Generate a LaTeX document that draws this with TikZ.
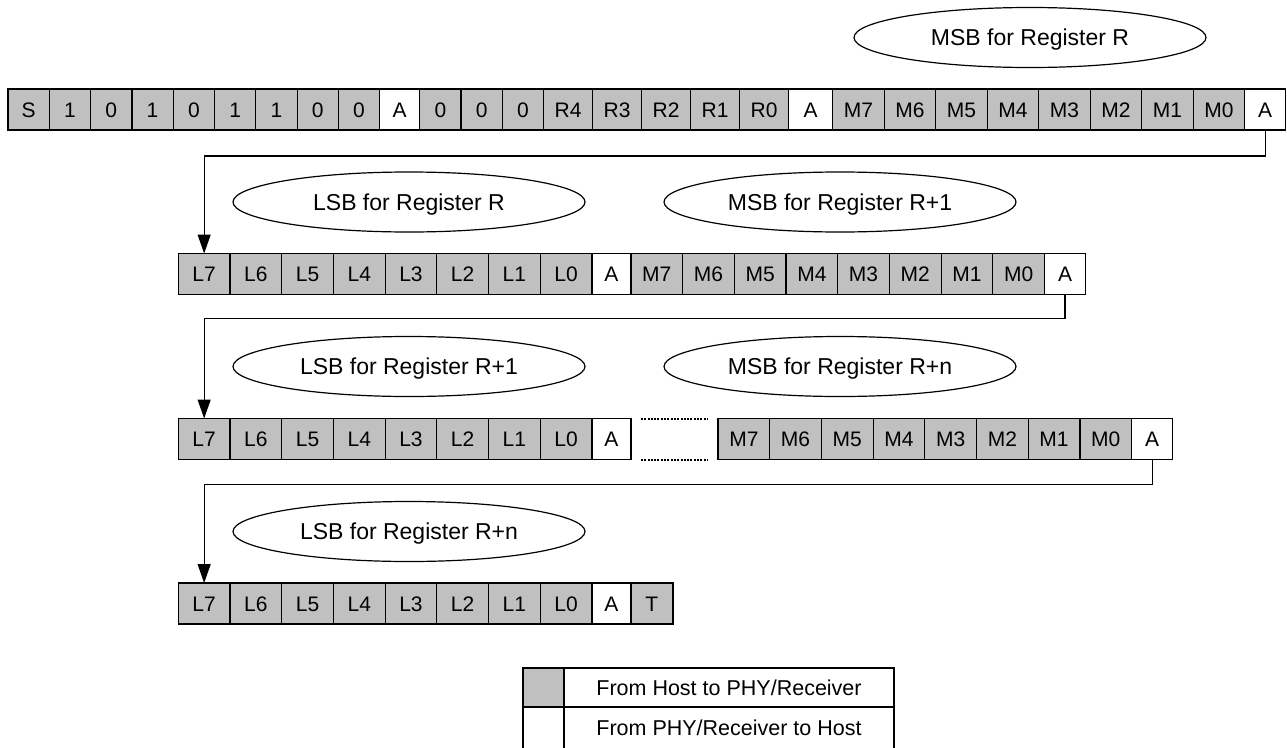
\documentclass[tikz,border=0pt]{standalone}
\usepackage{fontspec}
\setmainfont{Liberation Sans}
\usetikzlibrary{shapes.geometric,arrows.meta}
\definecolor{cellgrey}{RGB}{192,192,192}
\newcommand\cellrow[4]{%
  \foreach [count=\i] \t/\cw/\f in {#4} {%
    \pgfmathtruncatemacro\j{\i-1}%
    \ifnum\i=1
      \node[cell, fill=\f, minimum width=\cw pt, anchor=north west] (#1\i) at (#2,#3) {\t};
    \else
      \node[cell, fill=\f, minimum width=\cw pt, anchor=west] (#1\i) at (#1\j.east) {\t};
    \fi
  }}
\begin{document}
\begin{tikzpicture}[x=1pt,y=-1pt,
  cell/.style={draw, line width=1.2pt, minimum height=41pt, inner sep=0pt, outer sep=0pt,
    font=\fontsize{21}{25}\selectfont, text height=15pt, text depth=0pt},
  oval/.style={draw, ellipse, line width=1.2pt, minimum width=352pt, minimum height=60pt, inner sep=0pt,
    font=\fontsize{23}{27}\selectfont, text height=16.5pt, text depth=0pt},
  conn/.style={line width=1.2pt, -{Triangle[length=19pt,width=13pt]}},
  dotline/.style={line width=2pt, dash pattern=on 2pt off 1.3pt},
  lcell/.style={draw, line width=1.2pt, inner sep=0pt, outer sep=0pt,
    font=\fontsize{21.5}{26}\selectfont, text height=15.4pt, text depth=0pt}]
\useasboundingbox (0,0) rectangle (1287,747);
% row 1
\cellrow{a}{8}{89}{S/41.3/cellgrey, 1/41.3/cellgrey, 0/41.3/cellgrey, 1/41.3/cellgrey, 0/41.3/cellgrey, 1/41.3/cellgrey, 1/41.3/cellgrey, 0/41.3/cellgrey, 0/41.3/cellgrey, A/40/white, 0/41.3/cellgrey, 0/41.3/cellgrey, 0/41.3/cellgrey, R4/49/cellgrey, R3/49/cellgrey, R2/49/cellgrey, R1/49/cellgrey, R0/49/cellgrey, A/44/white, M7/51.5/cellgrey, M6/51.5/cellgrey, M5/51.5/cellgrey, M4/51.5/cellgrey, M3/51.5/cellgrey, M2/51.5/cellgrey, M1/51.5/cellgrey, M0/51.5/cellgrey, A/41/white}
% row 2
\cellrow{b}{178.3}{253.5}{L7/51.7/cellgrey, L6/51.7/cellgrey, L5/51.7/cellgrey, L4/51.7/cellgrey, L3/51.7/cellgrey, L2/51.7/cellgrey, L1/51.7/cellgrey, L0/51.7/cellgrey, A/39/white, M7/51.7/cellgrey, M6/51.7/cellgrey, M5/51.7/cellgrey, M4/51.7/cellgrey, M3/51.7/cellgrey, M2/51.7/cellgrey, M1/51.7/cellgrey, M0/51.7/cellgrey, A/41/white}
% row 3
\cellrow{c}{178.3}{418.5}{L7/51.7/cellgrey, L6/51.7/cellgrey, L5/51.7/cellgrey, L4/51.7/cellgrey, L3/51.7/cellgrey, L2/51.7/cellgrey, L1/51.7/cellgrey, L0/51.7/cellgrey, A/39/white}
\cellrow{d}{718}{418.5}{M7/51.7/cellgrey, M6/51.7/cellgrey, M5/51.7/cellgrey, M4/51.7/cellgrey, M3/51.7/cellgrey, M2/51.7/cellgrey, M1/51.7/cellgrey, M0/51.7/cellgrey, A/41/white}
% row 4
\cellrow{e}{178.3}{583}{L7/51.7/cellgrey, L6/51.7/cellgrey, L5/51.7/cellgrey, L4/51.7/cellgrey, L3/51.7/cellgrey, L2/51.7/cellgrey, L1/51.7/cellgrey, L0/51.7/cellgrey, A/39/white, T/42/cellgrey}
% dotted gap
\draw[dotline] ([xshift=10pt]c9.north east) -- ([xshift=-10pt]d1.north west);
\draw[dotline] ([xshift=10pt]c9.south east) -- ([xshift=-10pt]d1.south west);
% ellipses
\node[oval] (o1) at (1030,37.5) {MSB for Register R};
\node[oval] (o2) at (409,202) {LSB for Register R};
\node[oval] (o3) at (840,202) {MSB for Register R+1};
\node[oval] (o4) at (409,366.5) {LSB for Register R+1};
\node[oval] (o5) at (840,366.5) {MSB for Register R+n};
\node[oval] (o6) at (409,531.5) {LSB for Register R+n};
% connectors
\draw[conn] (a28.south) -- ++(0,26) -| (b1.north);
\draw[conn] (b18.south) -- ++(0,24) -| (c1.north);
\draw[conn] (d9.south) -- ++(0,25) -| (e1.north);
% legend
\node[lcell, fill=cellgrey, minimum width=41pt, minimum height=39pt, anchor=north west] (k1) at (523,668) {};
\node[lcell, minimum width=330pt, minimum height=39pt, anchor=west] (k2) at (k1.east) {From Host to PHY/Receiver};
\node[lcell, fill=white, minimum width=41pt, minimum height=42pt, anchor=north west] (k3) at (523,707) {};
\node[lcell, minimum width=330pt, minimum height=42pt, anchor=west] (k4) at (k3.east) {From PHY/Receiver to Host};
\end{tikzpicture}
\end{document}
